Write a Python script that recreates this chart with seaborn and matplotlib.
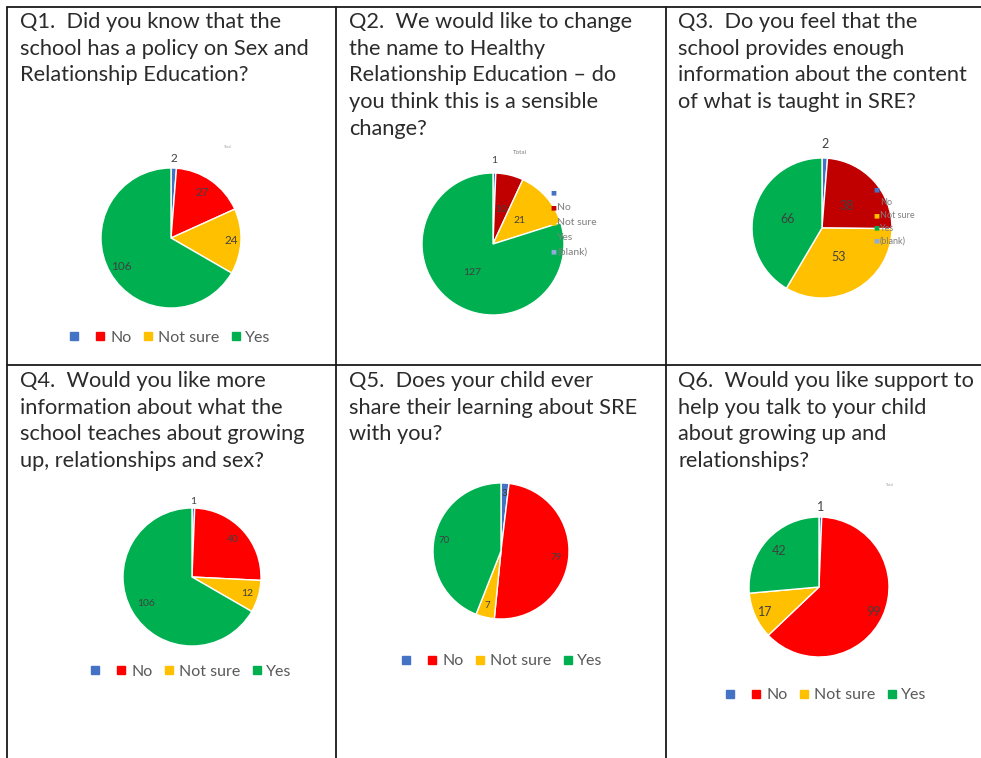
import matplotlib
matplotlib.use("Agg")
import matplotlib.pyplot as plt
import seaborn as sns
import numpy as np
from matplotlib.lines import Line2D

sns.set_theme(style="white")
plt.rcParams['font.family'] = ['Lato', 'DejaVu Sans']

# ---------------- data ----------------
categories = ["", "No", "Not sure", "Yes"]
q1_values = [2, 27, 24, 106]
q2_values = [1, 10, 21, 127]
q3_values = [2, 38, 53, 66]
q4_values = [1, 40, 12, 106]
q5_values = [3, 79, 7, 70]
q6_values = [1, 99, 17, 42]
titles = [
    "Q1.  Did you know that the\nschool has a policy on Sex and\nRelationship Education?",
    "Q2.  We would like to change\nthe name to Healthy\nRelationship Education \u2013 do\nyou think this is a sensible\nchange?",
    "Q3.  Do you feel that the\nschool provides enough\ninformation about the content\nof what is taught in SRE?",
    "Q4.  Would you like more\ninformation about what the\nschool teaches about growing\nup, relationships and sex?",
    "Q5.  Does your child ever\nshare their learning about SRE\nwith you?",
    "Q6.  Would you like support to\nhelp you talk to your child\nabout growing up and\nrelationships?",
]
inline_legend_labels = ["", "No", "Not sure", "Yes", "(blank)"]

# ---------------- style ----------------
W, H = 981, 758
blue, red, dred, yellow, green = "#4472C4", "#FF0000", "#C00000", "#FFC000", "#00B050"
pal_bright = [blue, red, yellow, green]
pal_dark = [blue, dred, yellow, green]
label_col = "#404040"

fig = plt.figure(figsize=(W / 100, H / 100), dpi=100)
fig.patch.set_facecolor("white")

def fx(x):
    return x / W

def fy(y):
    return 1 - y / H

# table grid
grid_kw = dict(color="#1a1a1a", lw=1.3)
fig.add_artist(Line2D([fx(7), fx(7)], [fy(7), fy(758)], **grid_kw))
fig.add_artist(Line2D([fx(336), fx(336)], [fy(7), fy(758)], **grid_kw))
fig.add_artist(Line2D([fx(666), fx(666)], [fy(7), fy(758)], **grid_kw))
fig.add_artist(Line2D([fx(7), fx(981)], [fy(7), fy(7)], **grid_kw))
fig.add_artist(Line2D([fx(7), fx(981)], [fy(365), fy(365)], **grid_kw))

# titles
title_pos = [(20, 12), (349, 12), (678, 12), (20, 371), (349, 371), (678, 371)]
for (tx, ty), t in zip(title_pos, titles):
    fig.text(fx(tx), fy(ty), t, ha="left", va="top", fontsize=15.7,
             color="#2b2b2b", linespacing=1.42)

# pies
specs = [
    (q1_values, pal_bright, (171, 238), 70, [1.14, 0.79, 0.86, 0.82], 8.5),
    (q2_values, pal_dark, (493, 244), 71, [1.17, 0.5, 0.5, 0.5], 7.5),
    (q3_values, pal_dark, (822, 228), 70, [1.2, 0.47, 0.47, 0.51], 9),
    (q4_values, pal_bright, (192, 577), 69, [1.1, 0.81, 0.83, 0.77], 7.5),
    (q5_values, pal_bright, (501, 551), 68, [0.85, 0.82, 0.83, 0.85], 7),
    (q6_values, pal_bright, (819, 587), 70, [1.14, 0.85, 0.85, 0.77], 9),
]
for vals, pal, (cx, cy), R, fracs, fs in specs:
    ax = fig.add_axes([fx(cx - R), fy(cy + R), 2 * R / W, 2 * R / H])
    wedges, _ = ax.pie(vals, colors=pal, startangle=90, counterclock=False,
                       radius=1, wedgeprops=dict(edgecolor="white", linewidth=1.0))
    for w, v, f in zip(wedges, vals, fracs):
        ang = np.deg2rad((w.theta1 + w.theta2) / 2)
        ax.text(f * np.cos(ang), f * np.sin(ang), str(v), ha="center", va="center",
                fontsize=fs, color=label_col)
    ax.set_xlim(-1, 1)
    ax.set_ylim(-1, 1)
    ax.set_aspect("equal")
    ax.axis("off")

# bottom legends
def bottom_legend(cx, y, pal):
    handles = [Line2D([], [], marker="s", ls="", markersize=5.5, color=c) for c in pal]
    fig.legend(handles, categories, loc="center", bbox_to_anchor=(fx(cx), fy(y)),
               ncol=4, frameon=False, fontsize=11.5, handletextpad=0.05,
               columnspacing=0.5, handlelength=1.1, labelcolor="#595959")

bottom_legend(168, 338, pal_bright)
bottom_legend(189, 672, pal_bright)
bottom_legend(500, 661, pal_bright)
bottom_legend(824, 695, pal_bright)

# inline legends (Q2, Q3)
def inline_legend(x, y0, dy, pal, fs):
    cols = pal + ["#8FAADC"]
    for i, (lab, c) in enumerate(zip(inline_legend_labels, cols)):
        yy = y0 + i * dy
        fig.text(fx(x), fy(yy), "\u25a0", ha="center", va="center", fontsize=4.5,
                 color=c, family="DejaVu Sans")
        fig.text(fx(x + 4), fy(yy), lab, ha="left", va="center", fontsize=fs,
                 color="#7f7f7f")

inline_legend(553, 193, 14.8, pal_dark, 7.5)
inline_legend(876, 190, 12.8, pal_dark, 6.5)

# small header remnants
fig.text(fx(520), fy(152), "Total", ha="center", va="center", fontsize=4.5, color="#7f7f7f")
fig.text(fx(228), fy(147), "Total", ha="center", va="center", fontsize=2.5, color="#9f9f9f")
fig.text(fx(890), fy(485), "Total", ha="center", va="center", fontsize=2.5, color="#9f9f9f")

fig.savefig("out.png", dpi=100, facecolor="white")
